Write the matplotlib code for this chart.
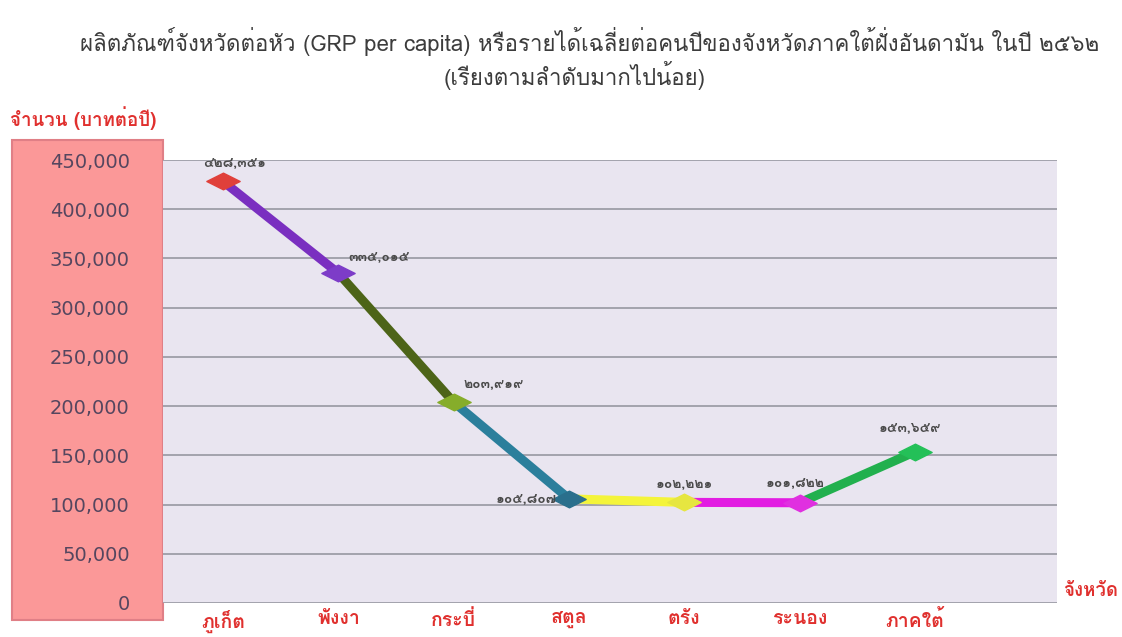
import matplotlib
matplotlib.use("Agg")
import matplotlib.pyplot as plt
from matplotlib.path import Path
from matplotlib.patches import Rectangle

THAI = ["Loma", "DejaVu Sans"]
plt.rcParams["font.family"] = THAI

provinces = ["ภูเก็ต", "พังงา", "กระบี่", "สตูล", "ตรัง", "ระนอง", "ภาคใต้"]
grp = [428351, 335015, 203919, 105807, 102221, 101822, 153659]
seg_colors = ["#7a2fc0", "#4d6418", "#2b7f9c", "#f4f43a", "#e21de2", "#22b04e"]
marker_colors = ["#e0403a", "#7d3cc8", "#86ad2a", "#2a6f8c", "#e6e640", "#e030e0", "#24c058"]
yticks = [0, 50000, 100000, 150000, 200000, 250000, 300000, 350000, 400000, 450000]

title1 = "ผลิตภัณฑ์จังหวัดต่อหัว (GRP per capita) หรือรายได้เฉลี่ยต่อคนปีของจังหวัดภาคใต้ฝั่งอันดามัน ในปี ๒๕๖๒"
title2 = "(เรียงตามลำดับมากไปน้อย)"

thai_digits = str.maketrans("0123456789", "๐๑๒๓๔๕๖๗๘๙")


def thai_num(v):
    return f"{v:,}".translate(thai_digits)


# flattened diamond like the excel marker
diamond = Path([(-1, 0), (0, 0.5), (1, 0), (0, -0.5), (-1, 0)],
               [Path.MOVETO, Path.LINETO, Path.LINETO, Path.LINETO, Path.CLOSEPOLY])

fig = plt.figure(figsize=(11.22, 6.37), dpi=100)
W, H = 1122, 637

# pink box behind the y tick labels
fig.patches.append(Rectangle((12 / W, 1 - 620 / H), 151 / W, 480 / H,
                             transform=fig.transFigure, facecolor="#fb9898",
                             edgecolor="#e07f86", lw=1.5, zorder=-5))

ax = fig.add_axes([163 / W, 1 - 603 / H, 894 / W, 443 / H])
ax.set_facecolor("#e9e5f0")
for s in ax.spines.values():
    s.set_visible(False)

x = list(range(len(provinces)))
for i in range(len(seg_colors)):
    ax.plot(x[i:i + 2], grp[i:i + 2], color=seg_colors[i], lw=6.5,
            solid_capstyle="round", zorder=3)
for i in x:
    ax.plot(x[i], grp[i], marker=diamond, ms=24, color=marker_colors[i],
            mec=marker_colors[i], zorder=4, ls="none")

# data labels: (dx pixels, dy pixels, ha)
offs = [(12, 12, "center"), (10, 10, "left"), (10, 12, "left"), (-12, 0, "right"),
        (0, 12, "center"), (-5, 14, "center"), (-5, 18, "center")]
for i, (dx, dy, ha) in enumerate(offs):
    ax.annotate(thai_num(grp[i]), (x[i], grp[i]), xytext=(dx * 0.72, dy * 0.72),
                textcoords="offset points", ha=ha, va="bottom" if dy else "center",
                fontsize=10, fontweight="bold", color="#4a4a4a", zorder=5)

ax.set_ylim(0, 450000)
ax.set_xlim(-0.52, 7.23)
ax.set_yticks(yticks)
ax.set_yticklabels([f"{v:,}" for v in yticks], family="DejaVu Sans",
                   fontsize=14, color="#55465f")
ax.tick_params(axis="y", length=0, pad=24)
ax.set_xticks(x)
ax.set_xticklabels(provinces, fontsize=14, color="#e0302e", fontweight="bold")
ax.tick_params(axis="x", length=0, pad=5)
ax.grid(axis="y", color="#a3a3ad", lw=1.4)
ax.set_axisbelow(True)

fig.text(590 / W, 1 - 41 / H, title1, ha="center", va="center", fontsize=16,
         color="#3c3c3c")
fig.text(575 / W, 1 - 76 / H, title2, ha="center", va="center", fontsize=16,
         color="#3c3c3c")
fig.text(10 / W, 1 - 118 / H, "จำนวน (บาทต่อปี)", ha="left", va="center",
         fontsize=13.5, color="#e0302e", fontweight="bold")
fig.text(1063 / W, 1 - 591 / H, "จังหวัด", ha="left", va="center",
         fontsize=13.5, color="#e0302e", fontweight="bold")

fig.savefig("out.png", dpi=100)
